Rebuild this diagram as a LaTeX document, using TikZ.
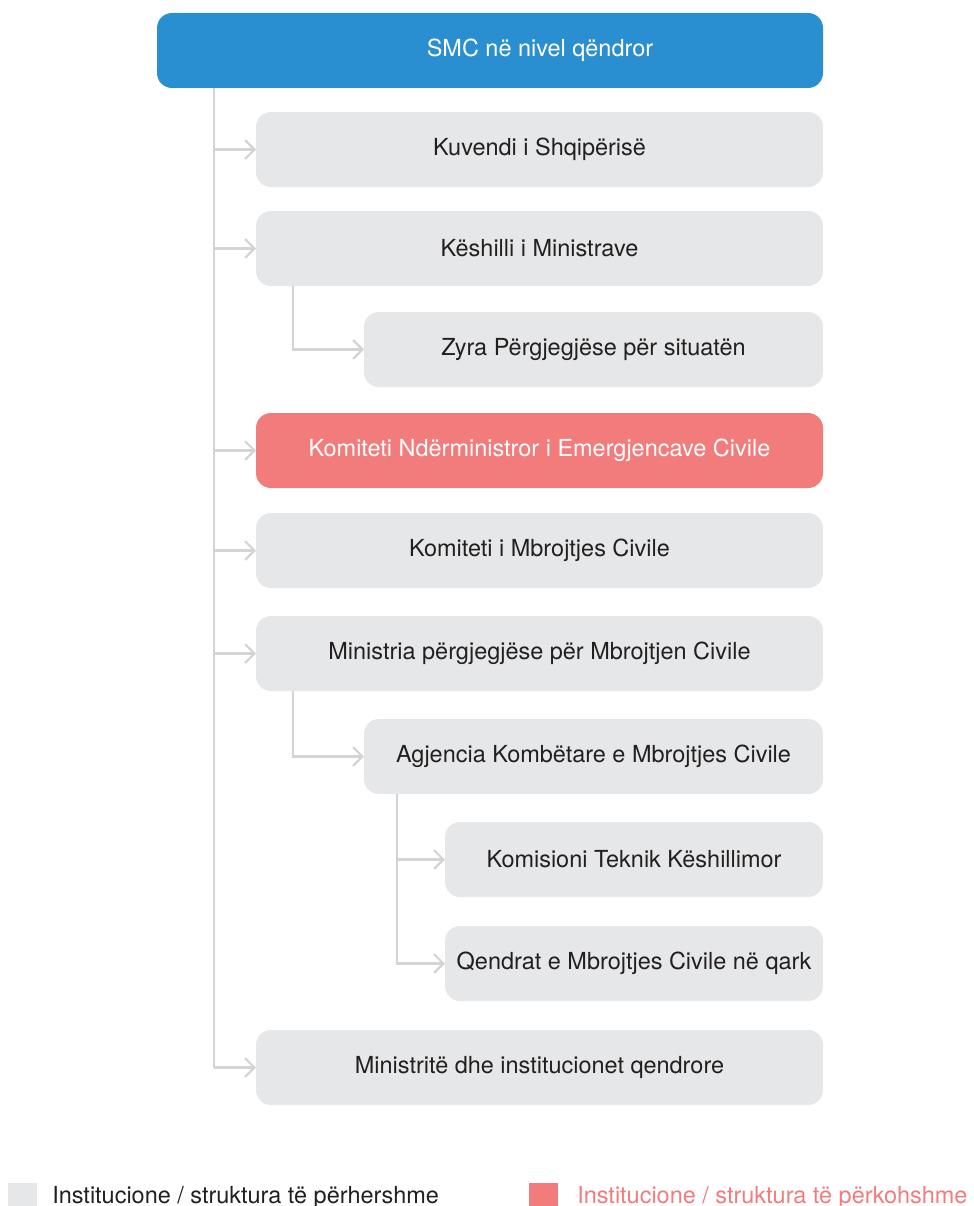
\documentclass[tikz,border=0pt]{standalone}
\usepackage{fontspec}
\setmainfont{TeX Gyre Heros}
\usetikzlibrary{positioning, arrows.meta}
\definecolor{smcblue}{HTML}{2A8FD0}
\definecolor{permgray}{HTML}{E6E7E8}
\definecolor{temppink}{HTML}{F27C7C}
\definecolor{linkgray}{HTML}{D4D4D4}
\definecolor{inktext}{HTML}{231F20}
\tikzset{
    unit/.style={
        rectangle,
        rounded corners=11.25pt,
        fill=permgray,
        text=inktext,
        minimum height=56.25pt,
        minimum width=425.25pt,
        inner sep=0pt,
        outer sep=0pt,
        font=\fontsize{17.6pt}{21pt}\selectfont,
    },
    subunit/.style={unit, minimum width=344.25pt},
    subsubunit/.style={unit, minimum width=283.5pt},
    headunit/.style={unit, fill=smcblue, text=white, minimum width=499.5pt},
    tempunit/.style={unit, fill=temppink, text=white},
    trunk/.style={draw=linkgray, line width=2.2pt},
    link/.style={trunk, -{Straight Barb[length=7pt,width=14pt,line width=1.7pt]}},
    keybox/.style={rectangle, minimum size=21.75pt, inner sep=0pt, outer sep=0pt},
    keytext/.style={inner sep=0pt, font=\fontsize{17.6pt}{21pt}\selectfont},
}

\begin{document}
\begin{tikzpicture}
                   \useasboundingbox (0,0) rectangle (730.5pt,-904.5pt);
                   \node[headunit, anchor=north west] (smc) at (117.75pt,-9.75pt) {\hspace*{75pt}SMC në nivel qëndror};
                   \node[unit, below=18pt of smc.south east, anchor=north east] (kuv) {Kuvendi i Shqipërisë};
                   \node[unit, below=18pt of kuv.south east, anchor=north east] (kes) {Këshilli i Ministrave};
                   \node[subunit, below=19.5pt of kes.south east, anchor=north east] (zyra) {Zyra Përgjegjëse për situatën};
                   \node[tempunit, below=19.5pt of zyra.south east, anchor=north east] (knec) {Komiteti Ndërministror i Emergjencave Civile};
                   \node[unit, below=18.75pt of knec.south east, anchor=north east] (kmc) {Komiteti i Mbrojtjes Civile};
                   \node[unit, below=21pt of kmc.south east, anchor=north east] (mmc) {Ministria përgjegjëse për Mbrojtjen Civile};
                   \node[subunit, below=21pt of mmc.south east, anchor=north east] (akmc) {Agjencia Kombëtare e Mbrojtjes Civile};
                   \node[subsubunit, below=21pt of akmc.south east, anchor=north east] (ktk) {Komisioni Teknik Këshillimor};
                   \node[subsubunit, below=21.75pt of ktk.south east, anchor=north east] (qmc) {Qendrat e Mbrojtjes Civile në qark};
                   \node[unit, below=21.75pt of qmc.south east, anchor=north east] (mic) {Ministritë dhe institucionet qendrore};
                   % connectors
                   \coordinate (t0) at ([xshift=42.75pt]smc.south west);
                   \coordinate (t1) at ([xshift=27.75pt]kes.south west);
                   \coordinate (t2) at ([xshift=27.75pt]mmc.south west);
                   \coordinate (t3) at ([xshift=24.75pt]akmc.south west);
                   \draw[trunk] (t0) -- (t0 |- mic.west);
                   \foreach \n in {kuv, kes, knec, kmc, mmc, mic}
                       \draw[link] (t0 |- \n.west) -- (\n.west);
                   \draw[link] (t1) |- (zyra.west);
                   \draw[link] (t2) |- (akmc.west);
                   \draw[link] (t3) |- (ktk.west);
                   \draw[link] (t3) |- (qmc.west);
                   % legend
                   \node[keybox, fill=permgray, anchor=north west] (permkey) at (6pt,-887.25pt) {};
                   \node[keytext, text=inktext, right=11.25pt of permkey] (permtxt) {Institucione / struktura të përhershme};
                   \node[keybox, fill=temppink, anchor=north west] (tempkey) at (396.75pt,-887.25pt) {};
                   \node[keytext, text=temppink, right=14.25pt of tempkey] (temptxt) {Institucione / struktura të përkohshme};
\end{tikzpicture}
\end{document}
